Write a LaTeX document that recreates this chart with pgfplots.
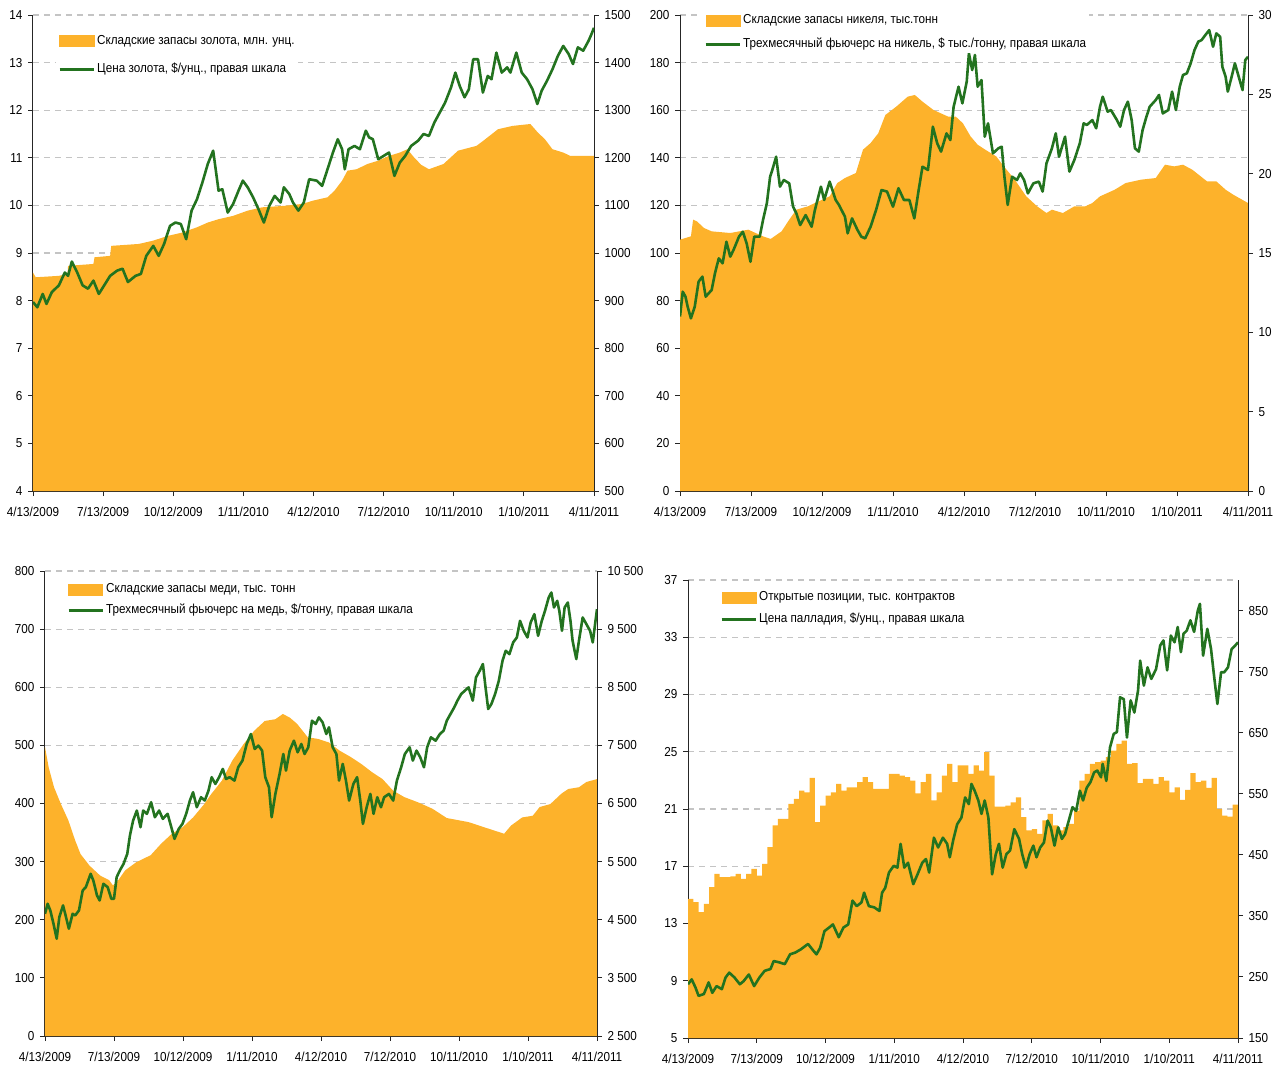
\documentclass[border=0pt]{standalone}
\usepackage{pgfplots}
\pgfplotsset{compat=1.18}
\usepackage{fontspec}
\setmainfont{Liberation Sans}[FakeStretch=0.9]
\definecolor{gold}{HTML}{FDB22B}
\definecolor{dgreen}{HTML}{23731F}
\definecolor{gridc}{HTML}{C4C4C4}
\newcommand{\fs}{\fontsize{13pt}{15pt}\selectfont}
\pgfplotsset{
  base/.style={scale only axis, anchor=south west, xmin=0, xmax=104, clip=true,
    tick align=outside, major tick length=5pt,
    tick style={black!85, line width=0.9pt},
    axis line style={black!85, line width=1pt},
    tick label style={font=\fs},
    scaled y ticks=false,
    /pgf/number format/assume math mode=true,
    /pgf/number format/set thousands separator={}},
  leftax/.style={base, axis y line*=left, axis x line*=bottom,
    xtick={0,13,...,104},
    xticklabels={4/13/2009,7/13/2009,10/12/2009,1/11/2010,4/12/2010,7/12/2010,10/11/2010,1/10/2011,4/11/2011},
    xticklabel style={yshift=-8pt},
    yticklabel style={xshift=-2pt},
    ymajorgrids, grid style={gridc, dash pattern=on 6pt off 5pt, line width=1.2pt}},
  rightax/.style={base, axis y line*=right, axis x line=none,
    yticklabel style={xshift=2pt},
    legend cell align=left,
    legend style={draw=none, fill=white, font=\fs, at={(axis description cs:0,1)}, anchor=north west,
      inner xsep=2pt, inner ysep=3pt, column sep=1pt,
      nodes={inner xsep=1pt, inner ysep=0pt, text height=9.5pt, text depth=2.5pt}}},
  areaplot/.style={fill=gold, draw=none},
  lineplot/.style={dgreen, line width=2.6pt, line join=round, mark=none,
    legend image code/.code={\draw[dgreen, line width=3pt] (0pt,0pt) -- (34pt,0pt);}},
  areaimg/.style={legend image code/.code={\fill[gold] (0pt,-5.5pt) rectangle (34pt,5.5pt);}},
}
\begin{document}
\begin{tikzpicture}
\useasboundingbox (0pt,0pt) rectangle (1286pt,-1070pt);
%% ---------------- Panel 1: gold
\begin{axis}[leftax, at={(33pt,-491pt)}, width=561pt, height=476pt, ymin=4, ymax=14, ytick={4,...,14}]
\addplot[areaplot] coordinates {(0,8.59)(0.5,8.49)(4.8,8.52)(6.4,8.56)(6.5,8.73)(11.2,8.77)(11.4,8.91)(14.3,8.94)(14.5,9.15)(19.6,9.19)(22.3,9.26)(25.0,9.36)(27.7,9.43)(29.4,9.50)(30.4,9.54)(32.4,9.64)(34.4,9.71)(37.1,9.78)(39.8,9.89)(42.5,9.96)(46.5,9.99)(49.9,10.03)(51.9,10.10)(54.6,10.17)(55.9,10.31)(57.3,10.52)(58.3,10.73)(60.0,10.76)(62.0,10.87)(64.0,10.94)(66.0,11.04)(68.0,11.11)(69.4,11.18)(70.7,11.0)(72.0,10.85)(73.4,10.76)(76.1,10.87)(78.8,11.15)(82.2,11.25)(83.5,11.36)(86.2,11.60)(88.9,11.67)(92.2,11.71)(93.6,11.53)(94.9,11.39)(96.3,11.18)(98.3,11.11)(99.6,11.04)(104,11.04)} \closedcycle;
\end{axis}
\begin{axis}[rightax, at={(33pt,-491pt)}, width=561pt, height=476pt, ymin=500, ymax=1500, ytick={500,600,...,1500},
  legend style={xshift=23pt, yshift=-17pt, row sep=16pt}]
\addlegendimage{areaimg}\addlegendentry{Складские запасы золота, млн. унц.}
\addplot[lineplot] coordinates {(0,897)(0.8,886)(1.8,914)(2.5,893)(3.5,918)(4.8,932)(5.9,959)(6.5,952)(7.2,982)(8.2,959)(9.2,932)(10.2,925)(11.2,942)(12.2,914)(13.2,932)(14.3,952)(15.6,963)(16.6,967)(17.6,939)(19.0,952)(20.0,956)(21.0,994)(22.3,1015)(23.3,994)(24.3,1019)(25.4,1057)(26.4,1064)(27.4,1061)(28.4,1029)(29.4,1089)(30.4,1113)(31.4,1148)(32.4,1187)(33.4,1215)(34.4,1131)(35.1,1134)(36.1,1085)(37.1,1103)(38.1,1131)(38.9,1152)(39.8,1138)(40.8,1117)(41.8,1092)(42.8,1064)(43.8,1099)(44.8,1120)(45.9,1106)(46.5,1138)(47.5,1124)(48.2,1106)(49.2,1089)(50.2,1106)(51.2,1155)(52.6,1152)(53.6,1141)(54.6,1176)(55.6,1211)(56.5,1239)(57.3,1218)(57.8,1176)(58.5,1218)(59.6,1225)(60.6,1218)(61.7,1257)(62.3,1243)(63.0,1239)(64.0,1197)(65.0,1204)(66.0,1211)(67.0,1162)(68.0,1190)(69.0,1204)(70.1,1225)(71.4,1236)(72.4,1250)(73.4,1246)(74.4,1274)(75.4,1295)(76.4,1316)(77.5,1348)(78.3,1379)(79.1,1351)(80.0,1327)(80.8,1344)(81.6,1407)(82.5,1407)(83.4,1337)(84.3,1372)(85.0,1365)(85.9,1421)(86.9,1379)(87.9,1390)(88.5,1379)(89.6,1421)(90.6,1379)(91.6,1365)(92.6,1344)(93.5,1313)(94.3,1341)(95.3,1362)(96.3,1386)(97.3,1414)(98.3,1435)(99.3,1418)(100.1,1397)(101.0,1432)(102.0,1425)(103.0,1446)(103.5,1459)(104.0,1473)};
\addlegendentry{Цена золота, \$/унц., правая шкала}
\end{axis}
%% ---------------- Panel 2: nickel
\begin{axis}[leftax, at={(680pt,-491pt)}, width=568pt, height=476pt, ymin=0, ymax=200, ytick={0,20,...,200}]
\addplot[areaplot] coordinates {(0,105.6)(1.0,106.3)(2.0,107.0)(2.4,114.0)(3.1,113.3)(4.4,110.5)(5.8,109.1)(9.2,108.4)(12.5,109.8)(15.2,107.0)(16.6,105.9)(18.6,109.1)(20.0,114.0)(21.3,118.2)(23.4,119.6)(24.7,121.0)(27.4,123.8)(28.8,129.4)(30.2,131.5)(32.2,133.6)(33.5,143.4)(34.9,146.2)(36.3,150.3)(37.6,158.0)(39.6,161.5)(41.7,165.7)(43.0,166.4)(44.4,163.6)(46.4,160.1)(49.1,157.3)(50.5,157.3)(51.8,154.5)(53.2,149.0)(54.5,145.5)(55.9,143.4)(57.9,140.6)(59.3,136.4)(61.3,130.8)(63.4,123.8)(65.4,119.6)(67.1,116.8)(68.1,118.2)(70.1,116.8)(72.2,119.6)(74.2,119.6)(75.5,121.0)(76.9,123.8)(79.6,126.6)(81.6,129.4)(84.4,130.8)(87.1,131.5)(88.8,137.1)(90.5,136.4)(92.1,137.1)(93.8,135.0)(96.5,130.1)(98.2,130.1)(99.9,126.6)(101.3,124.5)(104,121.0)} \closedcycle;
\end{axis}
\begin{axis}[rightax, at={(680pt,-491pt)}, width=568pt, height=476pt, ymin=0, ymax=30, ytick={0,5,...,30},
  legend style={xshift=22pt, yshift=4pt, row sep=12pt}]
\addlegendimage{areaimg}\addlegendentry{Складские запасы никеля, тыс.тонн}
\addplot[lineplot] coordinates {(0,11.0)(0.5,12.56)(1.0,12.25)(1.4,11.62)(2.0,10.88)(2.7,11.62)(3.4,13.19)(4.1,13.51)(4.7,12.25)(5.8,12.67)(6.4,13.72)(7.1,14.66)(7.8,14.35)(8.5,15.71)(9.2,14.77)(9.8,15.19)(10.8,16.03)(11.5,16.34)(12.2,15.61)(12.9,14.45)(13.6,16.03)(14.6,16.03)(15.2,17.08)(15.9,18.13)(16.5,19.81)(16.9,20.23)(17.6,21.07)(18.3,19.18)(19.0,19.60)(20.0,19.39)(20.7,17.92)(21.3,17.50)(22.0,16.76)(23.0,17.39)(24.1,16.66)(24.7,17.71)(25.8,19.18)(26.4,18.34)(27.4,19.50)(28.5,18.34)(29.1,18.03)(30.2,17.29)(30.7,16.24)(31.5,17.18)(32.5,16.45)(33.2,16.03)(33.9,15.92)(34.9,16.66)(35.9,17.71)(36.9,18.97)(37.9,18.87)(39.0,17.92)(40.0,19.08)(41.0,18.34)(42.0,18.34)(42.9,17.18)(43.7,18.97)(44.4,20.44)(45.4,20.23)(46.3,22.96)(47.1,21.91)(47.8,21.39)(48.8,22.54)(49.5,22.12)(50.1,24.22)(51.0,25.48)(51.7,24.43)(52.5,25.80)(52.9,27.58)(53.5,26.53)(54.0,27.48)(54.5,25.48)(55.2,25.90)(55.8,22.33)(56.4,23.17)(57.3,21.28)(58.3,21.60)(58.9,21.70)(59.4,19.81)(60.0,18.03)(60.8,19.81)(61.7,19.60)(62.3,20.02)(63.0,19.60)(63.7,18.76)(64.7,19.39)(65.7,19.50)(66.4,18.87)(67.1,20.65)(68.1,21.60)(68.8,22.54)(69.4,21.07)(70.5,22.33)(71.3,20.13)(72.2,20.86)(73.2,21.91)(73.9,23.17)(74.5,23.07)(75.5,23.38)(76.2,22.86)(76.9,24.22)(77.4,24.85)(78.3,23.91)(78.9,24.01)(80.0,23.38)(80.6,22.96)(81.3,24.01)(82.0,24.54)(82.7,23.38)(83.3,21.60)(84.0,21.39)(84.7,22.75)(85.4,23.59)(86.0,24.22)(87.1,24.64)(87.7,24.96)(88.4,23.80)(89.4,24.01)(90.1,25.17)(90.8,24.01)(91.5,25.48)(92.1,26.22)(92.8,26.32)(93.5,26.95)(94.2,27.79)(94.9,28.32)(95.5,28.42)(96.2,28.74)(96.9,29.05)(97.6,28.00)(98.2,28.84)(98.9,28.63)(99.3,26.74)(99.9,26.11)(100.3,25.17)(101.0,26.11)(101.6,26.95)(102.3,26.11)(103.0,25.27)(103.5,27.16)(104,27.37)};
\addlegendentry{Трехмесячный фьючерс на никель, \$ тыс./тонну, правая шкала}
\end{axis}
%% ---------------- Panel 3: copper
\begin{axis}[leftax, at={(45pt,-1036pt)}, width=552pt, height=465pt, ymin=0, ymax=800, ytick={0,100,...,800}]
\addplot[areaplot] coordinates {(0,497)(0.7,462)(1.7,428)(3.0,399)(4.4,371)(5.7,336)(6.7,313)(8.4,293)(10.4,276)(12.1,268)(12.8,259)(13.8,268)(15.1,285)(17.2,299)(19.9,311)(21.9,331)(23.9,348)(25.9,359)(27.9,376)(30.0,399)(31.3,416)(33.3,439)(35.3,474)(37.4,502)(39.4,525)(41.4,542)(43.4,545)(44.8,554)(46.1,548)(47.5,537)(49.5,514)(51.5,511)(53.5,505)(55.5,491)(57.6,480)(59.6,468)(61.6,454)(63.6,442)(65.6,422)(67.7,411)(70.3,402)(73.0,391)(75.7,375)(79.8,368)(83.8,356)(86.5,348)(87.8,362)(89.9,376)(91.9,379)(93.2,394)(95.2,399)(97.3,417)(98.6,425)(100.6,428)(102.0,437)(104,442)} \closedcycle;
\end{axis}
\begin{axis}[rightax, at={(45pt,-1036pt)}, width=552pt, height=465pt, ymin=2500, ymax=10500, ytick={2500,3500,...,10500},
  yticklabels={2 500,3 500,4 500,5 500,6 500,7 500,8 500,9 500,10 500},
  legend style={xshift=20pt, yshift=-9pt, row sep=9pt}]
\addlegendimage{areaimg}\addlegendentry{Складские запасы меди, тыс. тонн}
\addplot[lineplot] coordinates {(0,4603)(0.5,4775)(1.0,4661)(1.6,4432)(2.2,4174)(2.7,4546)(3.4,4747)(3.8,4603)(4.5,4346)(5.2,4603)(5.7,4575)(6.4,4661)(7.1,5004)(7.7,5062)(8.6,5291)(9.1,5176)(9.8,4918)(10.3,4832)(11.0,5119)(11.8,5062)(12.5,4861)(13.0,4861)(13.5,5233)(14.1,5348)(14.8,5462)(15.5,5634)(16.0,5949)(16.6,6207)(17.3,6379)(18.0,6092)(18.5,6379)(19.2,6322)(20.0,6522)(20.7,6264)(21.5,6379)(22.2,6236)(23.1,6322)(23.8,6092)(24.4,5892)(25.2,6064)(25.9,6150)(26.6,6322)(27.3,6551)(27.9,6694)(28.6,6436)(29.4,6608)(30.1,6551)(30.8,6722)(31.4,6952)(32.1,6837)(32.8,6952)(33.5,7095)(34.1,6923)(34.8,6952)(35.7,6894)(36.4,7123)(37.2,7238)(38.0,7524)(38.8,7696)(39.5,7438)(40.2,7496)(40.9,7410)(41.5,6952)(42.2,6780)(42.7,6264)(43.4,6665)(44.2,7009)(44.9,7352)(45.4,7066)(46.1,7410)(46.9,7581)(47.6,7381)(48.3,7524)(48.9,7352)(49.6,7467)(50.3,7925)(51.0,7868)(51.6,7982)(52.3,7896)(53.0,7696)(53.5,7811)(54.2,7467)(54.9,7352)(55.4,6894)(56.1,7181)(56.7,6894)(57.3,6551)(58.1,6837)(58.8,6952)(59.4,6551)(59.9,6150)(60.6,6436)(61.3,6665)(61.9,6322)(62.6,6608)(63.3,6436)(63.9,6608)(64.8,6665)(65.6,6551)(66.3,6894)(67.1,7123)(67.8,7352)(68.7,7467)(69.3,7238)(70.0,7410)(70.7,7295)(71.4,7123)(72.0,7467)(72.7,7639)(73.6,7581)(74.4,7696)(75.1,7753)(75.7,7925)(76.4,8040)(77.1,8154)(77.7,8269)(78.4,8383)(79.1,8441)(79.8,8498)(80.6,8269)(81.2,8670)(81.9,8784)(82.5,8899)(83.0,8498)(83.5,8126)(84.1,8211)(84.8,8383)(85.5,8612)(86.2,8956)(86.8,9128)(87.5,9070)(88.2,9271)(88.9,9357)(89.5,9643)(90.2,9471)(90.9,9357)(91.5,9615)(92.2,9758)(92.9,9385)(93.6,9643)(94.2,9815)(94.9,10044)(95.4,10130)(95.9,9872)(96.5,9987)(96.9,9815)(97.4,9471)(97.9,9872)(98.5,9958)(99.0,9643)(99.4,9300)(100.1,8985)(100.6,9300)(101.3,9700)(102.0,9586)(102.7,9471)(103.2,9271)(104,9844)};
\addlegendentry{Трехмесячный фьючерс на медь, \$/тонну, правая шкала}
\end{axis}
%% ---------------- Panel 4: palladium
\begin{axis}[leftax, at={(688pt,-1038pt)}, width=550pt, height=458pt, ymin=5, ymax=37, ytick={5,9,...,37}]
\addplot[areaplot, const plot] coordinates {(0,14.72)(1,14.49)(2,13.79)(3,14.37)(4,15.54)(5,16.47)(6,16.24)(7,16.24)(8,16.3)(9,16.47)(10,16.12)(11,16.47)(12,16.82)(13,16.35)(14,17.17)(15,18.33)(16,19.85)(17,20.31)(18,20.31)(19,21.36)(20,21.71)(21,22.29)(22,22.17)(23,23.17)(24,20.08)(25,21.24)(26,21.94)(27,22.17)(28,22.76)(29,22.29)(30,22.52)(31,22.52)(32,22.87)(33,23.22)(34,22.87)(35,22.41)(36,22.41)(37,22.41)(38,23.45)(39,23.45)(40,23.34)(41,23.22)(42,22.99)(43,22.1)(44,22.87)(45,23.45)(46,21.6)(47,22.17)(48,23.34)(49,24.15)(50,22.87)(51,24.04)(52,24.04)(53,23.45)(54,24.04)(55,23.69)(56,24.97)(57,23.34)(58,21.17)(59,21.17)(60,21.24)(61,21.47)(62,21.82)(63,20.43)(64,19.5)(65,19.6)(66,19.26)(67,20.2)(68,20.66)(69,19.85)(70,19.5)(71,19.73)(72,19.96)(73,20.89)(74,22.99)(75,23.45)(76,24.15)(77,24.27)(78,24.38)(79,24.62)(80,25.08)(81,25.55)(82,25.78)(83,24.15)(84,24.2)(85,22.8)(86,23.1)(87,23.1)(88,22.76)(89,23.22)(90,22.99)(91,22.17)(92,22.52)(93,21.64)(94,22.34)(95,23.5)(96,22.87)(97,22.99)(98,22.48)(99,23.17)(100,21.01)(101,20.54)(102,20.47)(103,21.31)(104,21.31)} \closedcycle;
\end{axis}
\begin{axis}[rightax, at={(688pt,-1038pt)}, width=550pt, height=458pt, ymin=150, ymax=900, ytick={150,250,...,850},
  legend style={xshift=30pt, yshift=-8pt, row sep=10pt}]
\addlegendimage{areaimg}\addlegendentry{Открытые позиции, тыс. контрактов}
\addplot[lineplot] coordinates {(0,238)(0.7,246)(1.4,233)(2.0,219)(3.0,222)(3.9,241)(4.6,224)(5.4,235)(6.4,230)(7.1,249)(7.8,257)(8.8,249)(9.8,238)(10.5,243)(11.5,254)(12.5,235)(13.5,249)(14.5,260)(15.6,263)(16.2,276)(17.2,274)(18.3,271)(19.3,287)(20.3,290)(21.3,295)(22.7,304)(23.7,293)(24.3,287)(25.0,298)(25.8,325)(26.7,331)(27.4,336)(28.5,315)(29.4,331)(30.3,336)(31.1,375)(31.9,366)(32.8,372)(33.3,388)(34.2,366)(35.2,364)(36.2,358)(36.7,388)(37.3,396)(38.0,421)(38.9,432)(39.6,429)(40.2,468)(40.9,429)(41.6,437)(42.6,402)(43.4,418)(44.3,437)(45.0,443)(45.6,421)(46.5,478)(47.3,462)(48.2,478)(49.0,468)(49.5,446)(50.2,476)(50.9,500)(51.7,511)(52.4,544)(53.1,533)(53.6,566)(54.2,555)(54.9,539)(55.5,517)(56.1,539)(56.8,511)(57.5,418)(58.2,451)(58.8,468)(59.5,429)(60.2,451)(60.9,457)(61.7,492)(62.6,476)(63.2,451)(63.9,429)(64.6,451)(65.3,465)(65.9,446)(66.6,462)(67.3,470)(68.0,506)(68.6,495)(69.3,465)(70.0,495)(70.7,476)(71.3,484)(72.0,506)(72.7,528)(73.4,522)(74.1,555)(74.7,539)(75.4,560)(76.1,569)(76.8,585)(77.4,588)(78.1,577)(78.4,599)(79.1,571)(79.8,626)(80.5,648)(81.1,651)(81.7,708)(82.4,705)(83.0,642)(83.7,703)(84.4,683)(85.1,719)(85.5,768)(86.2,727)(86.9,757)(87.6,738)(88.5,754)(89.3,793)(89.9,801)(90.6,752)(91.3,809)(92.0,798)(92.6,823)(93.2,782)(93.7,812)(94.3,817)(95.0,834)(95.7,815)(96.4,850)(96.8,861)(97.4,776)(98.2,820)(98.9,787)(99.5,741)(100.1,697)(100.8,749)(101.4,749)(102.1,757)(102.8,787)(103.5,793)(104,798)};
\addlegendentry{Цена палладия, \$/унц., правая шкала}
\end{axis}
\end{tikzpicture}
\end{document}
